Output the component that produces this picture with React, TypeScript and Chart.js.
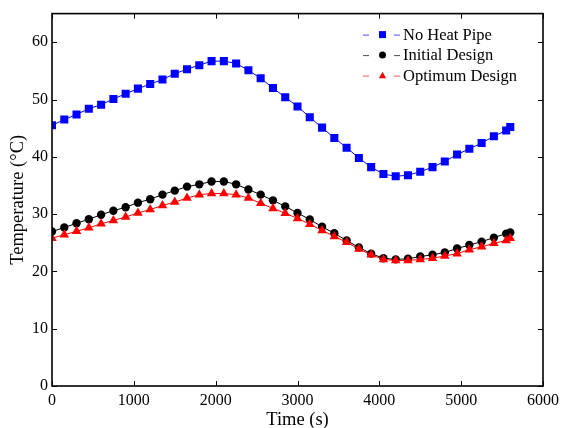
import React, { useEffect, useRef } from "react";
import { Chart, registerables } from "chart.js";

Chart.register(...registerables);

const times = [0, 150, 300, 450, 600, 750, 900, 1050, 1200, 1350, 1500, 1650, 1800, 1950, 2100, 2250, 2400, 2550, 2700, 2850, 3000, 3150, 3300, 3450, 3600, 3750, 3900, 4050, 4200, 4350, 4500, 4650, 4800, 4950, 5100, 5250, 5400, 5550, 5600];

const noHeatPipe = [45.5, 46.5, 47.4, 48.4, 49.1, 50.1, 51.0, 51.9, 52.7, 53.5, 54.5, 55.3, 56.0, 56.7, 56.7, 56.3, 55.1, 53.7, 52.0, 50.4, 48.8, 46.9, 45.1, 43.3, 41.6, 39.8, 38.2, 37.0, 36.6, 36.8, 37.4, 38.2, 39.2, 40.4, 41.4, 42.4, 43.6, 44.6, 45.2];

const initialDesign = [26.96, 27.66, 28.4, 29.1, 29.9, 30.6, 31.2, 32.0, 32.6, 33.4, 34.1, 34.8, 35.2, 35.7, 35.7, 35.2, 34.3, 33.4, 32.4, 31.35, 30.2, 29.05, 27.8, 26.65, 25.4, 24.2, 23.1, 22.3, 22.1, 22.2, 22.6, 22.9, 23.3, 24.0, 24.6, 25.2, 25.9, 26.6, 26.8];

const optimumDesign = [25.8, 26.4, 27.0, 27.6, 28.3, 28.9, 29.5, 30.2, 30.8, 31.5, 32.1, 32.8, 33.4, 33.6, 33.6, 33.4, 32.8, 31.9, 31.0, 30.15, 29.25, 28.25, 27.15, 26.1, 25.1, 23.9, 22.9, 22.1, 21.9, 21.9, 22.1, 22.3, 22.7, 23.1, 23.8, 24.3, 24.9, 25.4, 25.8];

const seriesLabels = ["No Heat Pipe", "Initial Design", "Optimum Design"];
const seriesColors = ["#0000ff", "#000000", "#ff0000"];
const seriesStyles = ["rect", "circle", "triangle"];

const xTicks = [0, 1000, 2000, 3000, 4000, 5000, 6000];
const yTicks = [0, 10, 20, 30, 40, 50, 60];

const FONT = "'Liberation Serif', 'Times New Roman', serif";

function drawMarker(ctx: CanvasRenderingContext2D, style: string, x: number, y: number, r: number) {
  ctx.beginPath();
  if (style === "rect") {
    ctx.rect(x - r, y - r, 2 * r, 2 * r);
  } else if (style === "circle") {
    ctx.arc(x, y, r, 0, Math.PI * 2);
  } else {
    ctx.moveTo(x, y - r * 1.1);
    ctx.lineTo(x + r * 1.05, y + r * 0.75);
    ctx.lineTo(x - r * 1.05, y + r * 0.75);
    ctx.closePath();
  }
  ctx.fill();
}

const framePlugin = {
  id: "framePlugin",
  afterDraw(chart: any) {
    const { ctx, chartArea } = chart;
    const { left, right, top, bottom } = chartArea;
    const xs = chart.scales.x;
    const ys = chart.scales.y;
    ctx.save();
    ctx.strokeStyle = "#000";
    ctx.lineWidth = 1;
    const tl = 5;
    ctx.beginPath();
    xTicks.forEach((v) => {
      const px = Math.round(xs.getPixelForValue(v)) + 0.5;
      ctx.moveTo(px, bottom);
      ctx.lineTo(px, bottom - tl);
      ctx.moveTo(px, top);
      ctx.lineTo(px, top + tl);
    });
    yTicks.forEach((v) => {
      const py = Math.round(ys.getPixelForValue(v)) + 0.5;
      ctx.moveTo(left, py);
      ctx.lineTo(left + tl, py);
      ctx.moveTo(right, py);
      ctx.lineTo(right - tl, py);
    });
    ctx.stroke();
    ctx.lineWidth = 1.6;
    ctx.strokeRect(left, top, right - left, bottom - top);

    // legend
    const lx = right - 180;
    ctx.font = `16.5px ${FONT}`;
    ctx.textBaseline = "middle";
    ctx.textAlign = "left";
    seriesLabels.forEach((label, i) => {
      const y = top + 21 + i * 20.5;
      ctx.strokeStyle = seriesColors[i];
      ctx.globalAlpha = 0.7;
      ctx.lineWidth = 1;
      ctx.beginPath();
      ctx.moveTo(lx, y + 0.5);
      ctx.lineTo(lx + 6, y + 0.5);
      ctx.moveTo(lx + 31, y + 0.5);
      ctx.lineTo(lx + 37, y + 0.5);
      ctx.stroke();
      ctx.globalAlpha = 1;
      ctx.fillStyle = seriesColors[i];
      drawMarker(ctx, seriesStyles[i], lx + 19.5, y, 3.5);
      ctx.fillStyle = "#000";
      ctx.fillText(label, lx + 40, y + 1);
    });
    ctx.restore();
  },
};

export default function App() {
  const ref = useRef<HTMLCanvasElement>(null);
  useEffect(() => {
    if (!ref.current) return;
    const mk = (data: number[]) => times.map((t, i) => ({ x: t, y: data[i] }));
    const chart = new Chart(ref.current, {
      type: "line",
      data: {
        datasets: [
          {
            label: seriesLabels[0],
            data: mk(noHeatPipe),
            borderColor: seriesColors[0],
            backgroundColor: seriesColors[0],
            borderWidth: 1,
            pointStyle: "rect",
            pointRadius: 5.7,
            pointBorderWidth: 0,
            order: 2,
          },
          {
            label: seriesLabels[1],
            data: mk(initialDesign),
            borderColor: seriesColors[1],
            backgroundColor: seriesColors[1],
            borderWidth: 1,
            pointStyle: "circle",
            pointRadius: 4.2,
            pointBorderWidth: 0,
            order: 1,
          },
          {
            label: seriesLabels[2],
            data: mk(optimumDesign),
            borderColor: seriesColors[2],
            backgroundColor: seriesColors[2],
            borderWidth: 1,
            pointStyle: "triangle",
            pointRadius: 5.5,
            pointBorderWidth: 0,
            order: 0,
          },
        ],
      },
      options: {
        responsive: false,
        animation: false,
        devicePixelRatio: 1,
        layout: { padding: { top: 11, right: 30, left: 0, bottom: 0 } },
        plugins: { legend: { display: false }, tooltip: { enabled: false } },
        scales: {
          x: {
            type: "linear",
            min: 0,
            max: 6000,
            grid: { display: false, drawTicks: false },
            border: { display: false },
            ticks: {
              stepSize: 1000,
              padding: 5,
              color: "#000",
              font: { family: FONT, size: 16 },
              maxRotation: 0,
              callback: (v: any) => String(v),
            },
            title: {
              display: true,
              text: "Time (s)",
              color: "#000",
              font: { family: FONT, size: 18.5 },
              padding: { top: 0, bottom: -3 },
            },
            afterFit(scale: any) {
              scale.height = 42;
            },
          },
          y: {
            type: "linear",
            min: 0,
            max: 65,
            grid: { display: false, drawTicks: false },
            border: { display: false },
            ticks: {
              stepSize: 10,
              includeBounds: false,
              padding: 4,
              color: "#000",
              font: { family: FONT, size: 16 },
              callback: (v: any) => String(v),
            },
            title: {
              display: true,
              text: "Temperature (°C)",
              color: "#000",
              font: { family: FONT, size: 18.5 },
              padding: { top: 7, bottom: 0 },
            },
            afterFit(scale: any) {
              scale.width = 52;
            },
          },
        },
      },
      plugins: [framePlugin],
    } as any);
    return () => chart.destroy();
  }, []);
  return (
    <div style={{ position: "fixed", left: 0, top: 0, width: 573, height: 428, background: "#fff" }}>
      <canvas ref={ref} width={573} height={428} />
    </div>
  );
}
